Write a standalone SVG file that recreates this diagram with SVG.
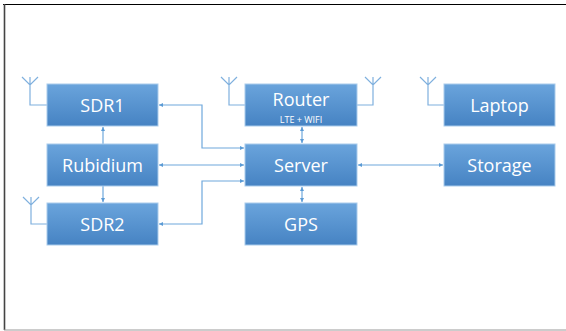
<svg xmlns="http://www.w3.org/2000/svg" width="566" height="331" viewBox="0 0 566 331">
<defs>
<linearGradient id="g" x1="0" y1="0" x2="0" y2="1">
<stop offset="0" stop-color="#6aa4dc"/>
<stop offset="1" stop-color="#4683c3"/>
</linearGradient>
<marker id="a" viewBox="0 0 6 6" refX="6" refY="3" markerWidth="4" markerHeight="4" orient="auto-start-reverse" markerUnits="userSpaceOnUse">
<path d="M0,0 L6,3 L0,6 z" fill="#5b9bd5"/>
</marker>
<style>
.box{fill:url(#g);stroke:#a9cbeb;stroke-width:1}
.t{font-family:"Open Sans","Liberation Sans",sans-serif;font-size:18px;fill:#ffffff;text-anchor:middle}
.s{font-family:"Open Sans","Liberation Sans",sans-serif;font-size:9px;fill:#ffffff;text-anchor:middle}
.c{fill:none;stroke:#6fa8dc;stroke-width:1.2}
.ant{fill:none;stroke:#7fb0de;stroke-width:1.2}
</style>
</defs>
<rect x="0" y="0" width="566" height="331" fill="#ffffff"/>
<line x1="3" y1="4.5" x2="566" y2="4.5" stroke="#000" stroke-width="1.2"/>
<line x1="4.5" y1="4" x2="4.5" y2="330" stroke="#444" stroke-width="1.6"/>
<line x1="4" y1="330" x2="566" y2="330" stroke="#999" stroke-width="1.2"/>

<g id="connectors">
<path class="c" d="M103,144 V127" marker-end="url(#a)"/>
<path class="c" d="M103,186 V202" marker-end="url(#a)"/>
<path class="c" d="M159,105 H202 V148 H244" marker-start="url(#a)" marker-end="url(#a)"/>
<path class="c" d="M159,165 H244" marker-start="url(#a)" marker-end="url(#a)"/>
<path class="c" d="M159,224 H202 V181 H244" marker-start="url(#a)" marker-end="url(#a)"/>
<path class="c" d="M302,127 V143" marker-start="url(#a)" marker-end="url(#a)"/>
<path class="c" d="M302,187 V202" marker-start="url(#a)" marker-end="url(#a)"/>
<path class="c" d="M358,165 H443" marker-start="url(#a)" marker-end="url(#a)"/>
</g>

<g id="antennas">
<path class="ant" d="M22,77 L30,85 L38,77 M30,77 V105 H47"/>
<path class="ant" d="M23,197 L31,205 L39,197 M31,197 V224 H47"/>
<path class="ant" d="M221,77 L229,85 L237,77 M229,77 V105 H245"/>
<path class="ant" d="M365,77 L373,85 L381,77 M373,77 V105 H357"/>
<path class="ant" d="M420,77 L428,85 L436,77 M428,77 V105 H444"/>
</g>

<g id="sdr1"><rect class="box" x="47" y="84" width="111" height="42"/><text class="t" x="102.5" y="112">SDR1</text></g>
<g id="rubidium"><rect class="box" x="47" y="144" width="111" height="42"/><text class="t" x="102.5" y="172">Rubidium</text></g>
<g id="sdr2"><rect class="box" x="47" y="203" width="111" height="42"/><text class="t" x="102.5" y="231">SDR2</text></g>
<g id="router"><rect class="box" x="245" y="84" width="112" height="42"/><text class="t" x="301" y="106">Router</text><text class="s" x="301" y="122.5">LTE + WIFI</text></g>
<g id="server"><rect class="box" x="245" y="144" width="112" height="42"/><text class="t" x="301" y="172">Server</text></g>
<g id="gps"><rect class="box" x="245" y="203" width="112" height="42"/><text class="t" x="301" y="231">GPS</text></g>
<g id="laptop"><rect class="box" x="444" y="84" width="111" height="42"/><text class="t" x="499.5" y="112">Laptop</text></g>
<g id="storage"><rect class="box" x="444" y="144" width="111" height="42"/><text class="t" x="499.5" y="172">Storage</text></g>
</svg>
